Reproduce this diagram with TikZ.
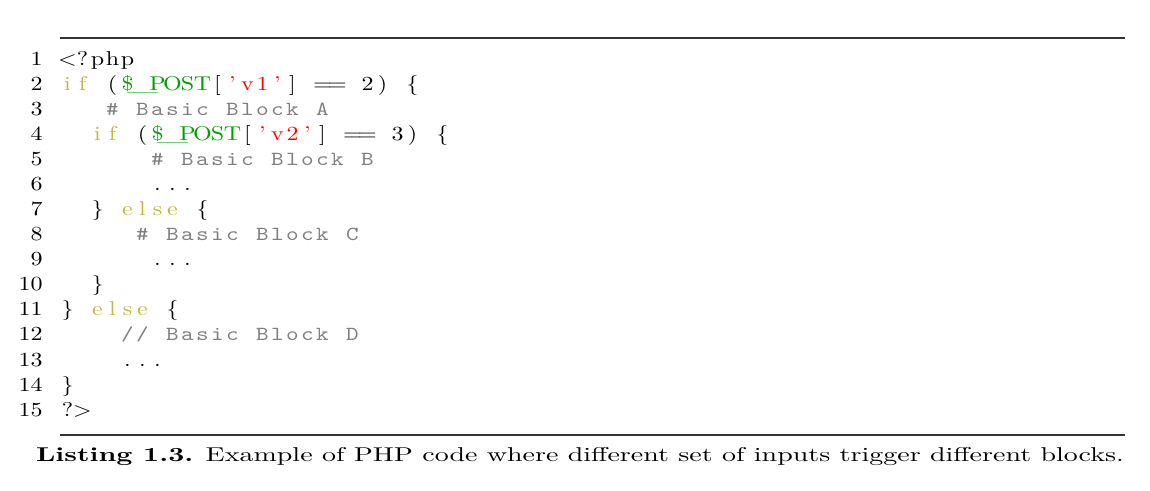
\documentclass[tikz,border=0pt]{standalone}
\usepackage{fontspec}
\usepackage{graphicx}
\setmainfont{lmroman10-regular.otf}[BoldFont=lmroman10-bold.otf,ItalicFont=lmroman10-italic.otf,FakeStretch=1.2]
\setmonofont{lmmono10-regular.otf}[FakeStretch=1.2]
\newfontfamily\capfont{lmroman10-regular.otf}[BoldFont=lmroman10-bold.otf,FakeStretch=1.4]

\definecolor{kwcolor}{RGB}{196,180,64}
\definecolor{varcolor}{RGB}{0,160,0}
\definecolor{strcolor}{RGB}{255,0,0}
\definecolor{cmtcolor}{RGB}{128,128,128}

% one character per column of the listing
\newcommand{\codechars}[4]{%
	\foreach \chr [count=\k from #2] in {#4}{
		\node[#3] (c#1-\k) at ({60+15*(\k+0.5)},{66+25*(#1-1)}) {\chr};
	}}
\newcommand{\codedot}{.}
\newcommand{\codelp}{(}
\newcommand{\coderp}{)}
\newcommand{\codeus}{\scalebox{1.75}[1]{\_}}

\begin{document}
\begin{tikzpicture}[x=0.5pt,y=-0.5pt]
		\useasboundingbox (0,0) rectangle (1150,491);
		\tikzstyle{plain}=[anchor=base,inner sep=0pt]
		\tikzstyle{kw}=[plain,text=kwcolor]
		\tikzstyle{var}=[plain,text=varcolor]
		\tikzstyle{str}=[plain,text=strcolor]
		\tikzstyle{cmt}=[plain,text=cmtcolor,font=\ttfamily]
		\tikzstyle{lnum}=[anchor=base east,inner sep=0pt]
		\draw[black!80,line width=0.7pt] (60,38) -- (1125,38);
		\draw[black!80,line width=0.7pt] (60,435) -- (1125,435);
		\foreach \n in {1,...,15}{
			\draw(43,{66+25*(\n-1)}) node[lnum] (n\n) {\n};
		}
		% line 1
		\codechars{1}{0}{plain}{<,?,p,h,p}
		% line 2
		\codechars{2}{0}{kw}{i,f}
		\codechars{2}{3}{plain}{\codelp}
		\codechars{2}{4}{var}{\$,\codeus,P,O,S,T}
		\codechars{2}{10}{plain}{[}
		\codechars{2}{11}{str}{',v,1,'}
		\codechars{2}{15}{plain}{]}
		\codechars{2}{17}{plain}{=,=}
		\codechars{2}{20}{plain}{2,\coderp}
		\codechars{2}{23}{plain}{\{}
		% line 3
		\codechars{3}{3}{cmt}{\#}
		\codechars{3}{5}{cmt}{B,a,s,i,c}
		\codechars{3}{11}{cmt}{B,l,o,c,k}
		\codechars{3}{17}{cmt}{A}
		% line 4
		\codechars{4}{2}{kw}{i,f}
		\codechars{4}{5}{plain}{\codelp}
		\codechars{4}{6}{var}{\$,\codeus,P,O,S,T}
		\codechars{4}{12}{plain}{[}
		\codechars{4}{13}{str}{',v,2,'}
		\codechars{4}{17}{plain}{]}
		\codechars{4}{19}{plain}{=,=}
		\codechars{4}{22}{plain}{3,\coderp}
		\codechars{4}{25}{plain}{\{}
		% line 5 and 6
		\codechars{5}{6}{cmt}{\#}
		\codechars{5}{8}{cmt}{B,a,s,i,c}
		\codechars{5}{14}{cmt}{B,l,o,c,k}
		\codechars{5}{20}{cmt}{B}
		\codechars{6}{6}{plain}{\codedot,\codedot,\codedot}
		% line 7
		\codechars{7}{2}{plain}{\}}
		\codechars{7}{4}{kw}{e,l,s,e}
		\codechars{7}{9}{plain}{\{}
		% line 8 to 10
		\codechars{8}{5}{cmt}{\#}
		\codechars{8}{7}{cmt}{B,a,s,i,c}
		\codechars{8}{13}{cmt}{B,l,o,c,k}
		\codechars{8}{19}{cmt}{C}
		\codechars{9}{6}{plain}{\codedot,\codedot,\codedot}
		\codechars{10}{2}{plain}{\}}
		% line 11
		\codechars{11}{0}{plain}{\}}
		\codechars{11}{2}{kw}{e,l,s,e}
		\codechars{11}{7}{plain}{\{}
		% line 12 to 15
		\codechars{12}{4}{cmt}{/,/}
		\codechars{12}{7}{cmt}{B,a,s,i,c}
		\codechars{12}{13}{cmt}{B,l,o,c,k}
		\codechars{12}{19}{cmt}{D}
		\codechars{13}{4}{plain}{\codedot,\codedot,\codedot}
		\codechars{14}{0}{plain}{\}}
		\codechars{15}{0}{plain}{?,>}
		% caption
		\node[anchor=base,font=\capfont] (caption) at (580,461) {\textbf{Listing 1.3.} Example of PHP code where different set of inputs trigger different blocks.};
	\end{tikzpicture}
\end{document}
